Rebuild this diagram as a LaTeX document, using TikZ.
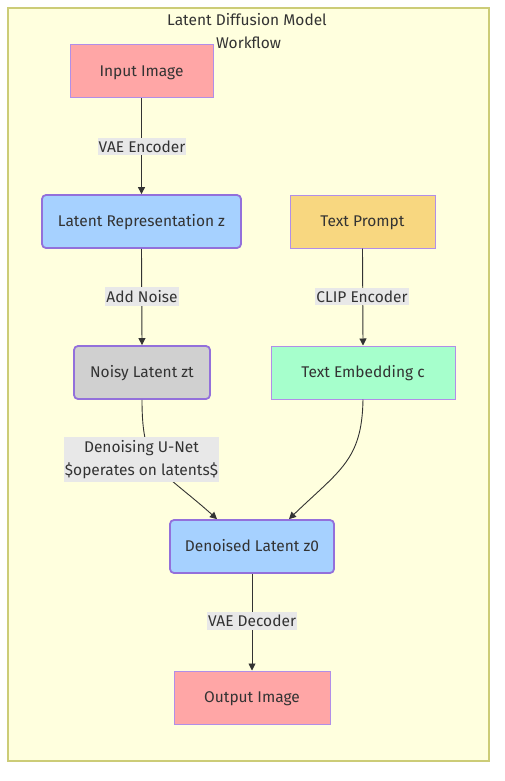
\documentclass[tikz,border=0pt]{standalone}
\usepackage{fontspec}
\setmainfont{Fira Sans}
\usetikzlibrary{arrows.meta}
\definecolor{clfill}{HTML}{FFFFDE}
\definecolor{clline}{HTML}{CCCC77}
\definecolor{txt}{HTML}{333333}
\definecolor{pinkf}{HTML}{FFA6A6}
\definecolor{bluef}{HTML}{A6D1FF}
\definecolor{yelf}{HTML}{F8D780}
\definecolor{greenf}{HTML}{A6FFCC}
\definecolor{grayf}{HTML}{D0D0D0}
\definecolor{purp}{HTML}{9370DB}
\definecolor{purpl}{HTML}{B18EE8}
\definecolor{lblf}{HTML}{E8E8E8}
\tikzset{
  x=1pt, y=-1pt,
  every node/.style={font=\fontsize{15.5}{23.5}\selectfont, text=txt},
  sqbox/.style={draw=purpl, line width=1pt, minimum height=53pt, inner sep=0pt, text height=12pt, text depth=2pt},
  rdbox/.style={draw=purp, line width=1.8pt, rounded corners=4pt, minimum height=53pt, inner sep=0pt, text height=12pt, text depth=2pt},
  lbl/.style={fill=lblf, inner xsep=1pt, inner ysep=3pt, align=center},
  edge/.style={draw=txt, line width=0.9pt, -{Triangle[length=7pt,width=7pt]}},
}
\begin{document}
\begin{tikzpicture}
\useasboundingbox (0,0) rectangle (505,781);
\draw[fill=clfill, draw=clline, line width=1.2pt] (8,8) rectangle (489,761);
\node[align=center] (title) at (247,31) {Latent Diffusion Model\\\hspace*{3pt}Workflow};

\node[sqbox, fill=pinkf, minimum width=143pt] (in) at (141.5,71.5) {Input Image};
\node[rdbox, fill=bluef, minimum width=199pt] (lat) at (141.5,221.5) {Latent Representation z};
\node[sqbox, fill=yelf, minimum width=145pt] (tp) at (362.5,221.5) {Text Prompt};
\node[rdbox, fill=grayf, minimum width=136pt] (noisy) at (142,372.5) {Noisy Latent zt};
\node[sqbox, fill=greenf, minimum width=184pt] (emb) at (363,372.5) {Text Embedding c};
\node[rdbox, fill=bluef, minimum width=164pt] (den) at (252,546.5) {Denoised Latent z0};
\node[sqbox, fill=pinkf, minimum width=156pt] (out) at (252,697.5) {Output Image};

\draw[edge] (in.south) -- (lat.north);
\draw[edge] (lat.south) -- (noisy.north);
\draw[edge] (tp.south) -- (emb.north);
\draw[edge] (den.south) -- (out.north);
\draw[edge] (noisy.south) .. controls (142,470) and (160,468) .. (den.north -| 217,0);
\draw[edge] (emb.south) .. controls (362,460) and (340,470) .. (den.north -| 289,0);

\node[lbl] (l1) at (142,146.5) {VAE Encoder};
\node[lbl] (l2) at (142,296.5) {Add Noise};
\node[lbl] (l3) at (362,296.5) {CLIP Encoder};
\node[lbl] (l4) at (141.5,459.5) {Denoising U-Net\\\$operates on latents\$};
\node[lbl] (l5) at (252,621) {VAE Decoder};
\end{tikzpicture}
\end{document}
